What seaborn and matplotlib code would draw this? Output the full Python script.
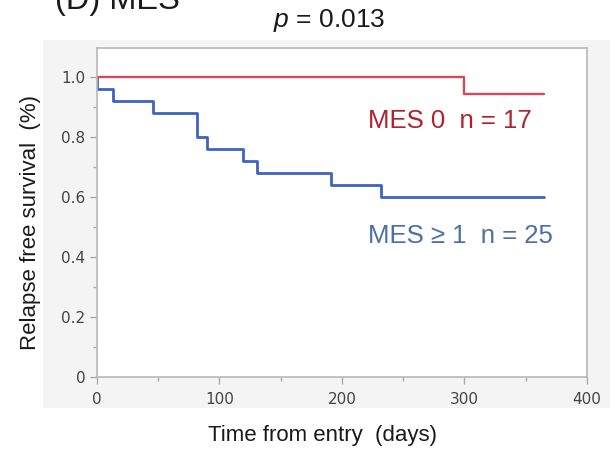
import matplotlib
matplotlib.use("Agg")
import matplotlib.pyplot as plt
import seaborn as sns
import pandas as pd
from matplotlib.patches import Rectangle
from matplotlib.ticker import MultipleLocator, FixedLocator

# ---- data ----
mes0_time = [0, 300, 365]
mes0_surv = [1.0, 0.941, 0.941]
mes1_time = [0, 0, 13, 46, 82, 90, 119, 131, 191, 232, 365]
mes1_surv = [1.0, 0.96, 0.92, 0.88, 0.80, 0.76, 0.72, 0.68, 0.64, 0.60, 0.60]
x_ticks = [0, 100, 200, 300, 400]
y_ticks = [0, 0.2, 0.4, 0.6, 0.8, 1.0]
y_tick_labels = ["0", "0.2", "0.4", "0.6", "0.8", "1.0"]

sns.set_theme(style="white")
plt.rcParams['font.family'] = ['Liberation Sans', 'DejaVu Sans']
plt.rcParams['mathtext.fontset'] = 'custom'
plt.rcParams['mathtext.it'] = 'Liberation Sans:italic'
plt.rcParams['mathtext.rm'] = 'Liberation Sans'

fig = plt.figure(figsize=(6.15, 4.53), dpi=100)
fig.patch.set_facecolor("white")
fig.patches.append(Rectangle((43/615, 1-408/453), (610-43)/615, (408-40)/453,
                             transform=fig.transFigure, facecolor="#f4f4f4",
                             edgecolor="none", zorder=-10))
ax = fig.add_axes([96.7/615, 1-376.7/453, (587-96.7)/615, (376.7-48)/453])
ax.set_facecolor("white")

df0 = pd.DataFrame({"t": mes0_time, "s": mes0_surv})
df1 = pd.DataFrame({"t": mes1_time, "s": mes1_surv})
sns.lineplot(data=df1, x="t", y="s", ax=ax, estimator=None, sort=False,
             drawstyle="steps-post", color="#3d62c0", linewidth=2.0)
sns.lineplot(data=df0, x="t", y="s", ax=ax, estimator=None, sort=False,
             drawstyle="steps-post", color="#d24a5a", linewidth=1.7)

ax.set_xlim(0, 400)
ax.set_ylim(0, 1.096)
ax.xaxis.set_major_locator(FixedLocator(x_ticks))
ax.xaxis.set_minor_locator(MultipleLocator(50))
ax.yaxis.set_major_locator(FixedLocator(y_ticks))
ax.set_yticklabels(y_tick_labels)
ax.yaxis.set_minor_locator(MultipleLocator(0.1))
ax.tick_params(which="both", direction="out", color="#a8a8a8", width=1,
               labelsize=11, labelcolor="#444444", bottom=True, left=True)
ax.tick_params(which="major", length=5)
ax.tick_params(axis="x", which="major", pad=6)
ax.tick_params(axis="y", which="major", pad=3)
ax.tick_params(which="minor", length=3)
for lab in ax.get_xticklabels() + ax.get_yticklabels():
    lab.set_family("DejaVu Sans")
for sp in ax.spines.values():
    sp.set_visible(True)
    sp.set_color("#b8b8b8")
    sp.set_linewidth(1.2)

ax.set_xlabel("")
ax.set_ylabel("")
fig.text(323/615, 1-441/453, "Time from entry  (days)", fontsize=16, color="#1a1a1a",
         ha="center", va="baseline")
fig.text(31/615, 1-222/453, "Relapse free survival  (%)", fontsize=16, color="#1a1a1a",
         ha="center", va="center", rotation=90)

ax.text(221, 0.829, "MES 0  n = 17", color="#b0202e", fontsize=18.5, ha="left", va="baseline")
ax.text(221, 0.446, "MES \u2265 1  n = 25", color="#4b6fa8", fontsize=18.5, ha="left", va="baseline")

fig.text(273/615, 1-27/453, r"$p$ = 0.013", fontsize=19, ha="left", va="baseline", color="#1a1a1a")
fig.text(55/615, 1-9/453, "(D) MES", fontsize=23.5, ha="left", va="baseline", color="#1a1a1a")

fig.savefig("out.png", dpi=100)
